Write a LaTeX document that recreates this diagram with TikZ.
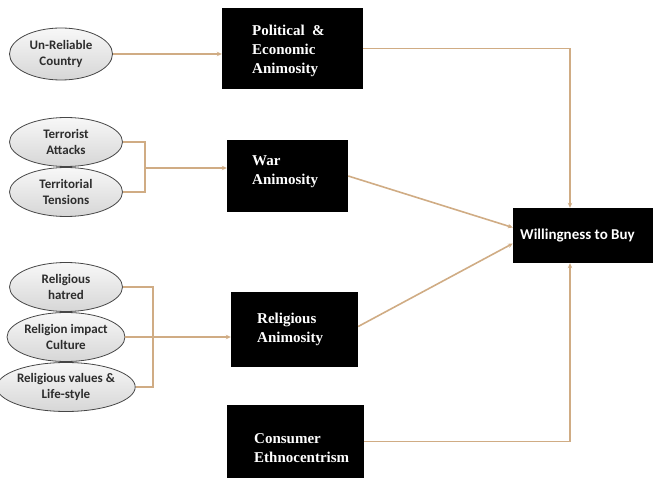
\documentclass[tikz,border=0pt]{standalone}
\usepackage{fontspec}
\newfontfamily\carl{Carlito}
\newfontfamily\lser{Liberation Serif}
\usetikzlibrary{shapes.geometric,arrows.meta}
\definecolor{conncol}{RGB}{208,172,132}
\definecolor{ovaltext}{RGB}{45,45,45}
\begin{document}
\begin{tikzpicture}[x=1pt,y=-1pt,
  oval/.style={ellipse, inner sep=0pt, minimum width=113pt, minimum height=49pt,
    top color=gray!6, bottom color=gray!32, draw=gray!55!black, line width=0.8pt,
    font=\carl\bfseries\fontsize{13}{15.5}\selectfont, text=ovaltext, align=center},
  blk/.style={rectangle, fill=black, draw=none, inner sep=0pt},
  blktxt/.style={inner sep=0pt, text=white, align=left,
    font=\lser\bfseries\fontsize{15}{19}\selectfont},
  conn/.style={draw=conncol, line width=1.6pt, -{Stealth[length=5pt,width=4.5pt]}},
  link/.style={draw=conncol, line width=1.6pt}]
\useasboundingbox (0,0) rectangle (656,478);

% antecedent ovals
\node[oval, minimum width=103pt, minimum height=52pt] (unrel) at (61,54) {Un-Reliable\\Country};
\node[oval] (terror) at (66,142) {Terrorist\\Attacks};
\node[oval] (territ) at (66,192) {Territorial\\Tensions};
\node[oval] (relhat) at (66,287) {Religious\\hatred};
\node[oval] (relimp) at (66,337) {Religion impact\\Culture};
\node[oval] (relval) at (66,387) {Religious values \&\\Life-style};

% animosity boxes
\node[blk, minimum width=141pt, minimum height=81pt] (pol) at (292.5,48.5) {};
\node[blktxt, anchor=west] at (252,51) {Political \ \&\\Economic\\Animosity};
\node[blk, minimum width=121pt, minimum height=72pt] (war) at (287.5,176) {};
\node[blktxt, anchor=west] at (252,172) {War\\Animosity};
\node[blk, minimum width=127pt, minimum height=75pt] (relig) at (294.5,329.5) {};
\node[blktxt, anchor=west] at (257,329) {Religious\\Animosity};
\node[blk, minimum width=137pt, minimum height=73pt] (cons) at (295.5,441.5) {};
\node[blktxt, anchor=west] at (254,448) {Consumer\\Ethnocentrism};

% outcome
\node[blk, minimum width=140pt, minimum height=55pt] (will) at (583,235.5) {};
\node[inner sep=0pt, anchor=west, text=white, font=\carl\bfseries\fontsize{15}{18}\selectfont]
  at (520,236) {Willingness to Buy};

% connectors
\draw[conn] (unrel.east) -- (unrel.east -| pol.west);
\draw[link] (terror.east) -- ++(22,0) |- (territ.east);
\coordinate (jw) at (145,168);
\draw[conn] (jw) -- (jw -| war.west);
\draw[link] (relhat.east) -- ++(30,0) |- (relval.east);
\draw[conn] (relimp.east) -- (relimp.east -| relig.west);

\draw[conn] (pol.east) -| ([xshift=-13pt]will.north);
\draw[conn] (war.east) -- ([yshift=8pt]will.west);
\draw[conn] ([yshift=3pt]relig.east) -- ([yshift=-8pt]will.west);
\draw[conn] (cons.east) -| ([xshift=-13pt]will.south);
\end{tikzpicture}
\end{document}
